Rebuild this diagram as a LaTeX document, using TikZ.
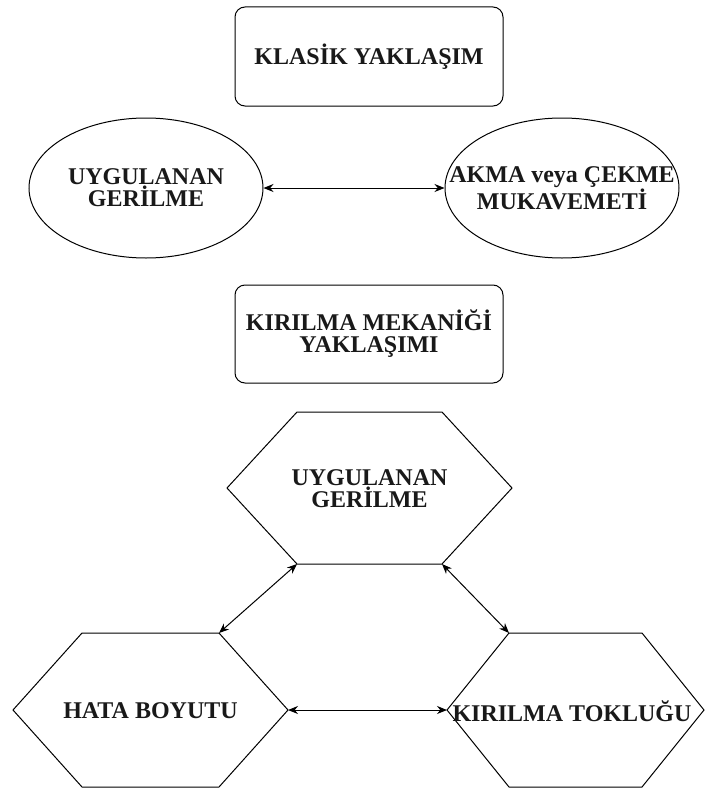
\documentclass[tikz,border=0pt]{standalone}
\usepackage{fontspec}
\setmainfont{Liberation Serif}
\usetikzlibrary{arrows.meta,shapes.geometric}
\begin{document}
\begin{tikzpicture}[x=1pt,y=-1pt,
  lbl/.style={font=\fontsize{24}{22}\selectfont\bfseries, align=center, inner sep=0pt, text=black!90},
  rbox/.style={draw, line width=1pt, rounded corners=10pt, minimum width=268pt, minimum height=99pt, lbl},
  ell/.style={draw, ellipse, line width=1pt, minimum width=234pt, minimum height=140pt, inner sep=0pt},
  hexline/.style={draw, line width=1pt, line join=miter},
  biarrow/.style={{Stealth[length=10pt,width=8pt]}-{Stealth[length=10pt,width=8pt]}, line width=1pt}]
\useasboundingbox (0,0) rectangle (705,792);
% classical approach
\node[rbox] (klasik) at (369,56.5) {KLASİK YAKLAŞIM};
\node[ell] (e1) at (146,188) {};
\node[lbl] (t1) at (e1) {UYGULANAN\\GERİLME};
\node[ell] (e2) at (562,188) {};
\node[lbl] (t2) at (e2) {AKMA veya ÇEKME\\MUKAVEMETİ};
\draw[biarrow] (e1.east) -- (e2.west);
% fracture mechanics approach
\node[rbox, minimum height=98pt] (kirilma) at (369,334) {KIRILMA MEKANİĞİ\\YAKLAŞIMI};
% top hexagon
\draw[hexline] (227,488) -- (297,412) -- (442,412) -- (512,488) -- (442,564) coordinate (h1se) -- (297,564) coordinate (h1sw) -- cycle;
\node[lbl] (h1) at (369.5,489) {UYGULANAN\\GERİLME};
% left hexagon
\draw[hexline] (13,710) -- (82,633) -- (219,633) coordinate (h2ne) -- (288,710) coordinate (h2e) -- (219,787) -- (82,787) -- cycle;
\node[lbl] (h2) at (150.5,711) {HATA BOYUTU};
% right hexagon
\draw[hexline] (447,710) coordinate (h3w) -- (509,633) coordinate (h3nw) -- (642,633) -- (704,710) -- (642,787) -- (509,787) -- cycle;
\node[lbl] (h3) at (572,711) {KIRILMA TOKLUĞU};
% connectors
\draw[biarrow] (h1sw) -- (h2ne);
\draw[biarrow] (h1se) -- (h3nw);
\draw[biarrow] (h2e) -- (h3w);
\end{tikzpicture}
\end{document}
